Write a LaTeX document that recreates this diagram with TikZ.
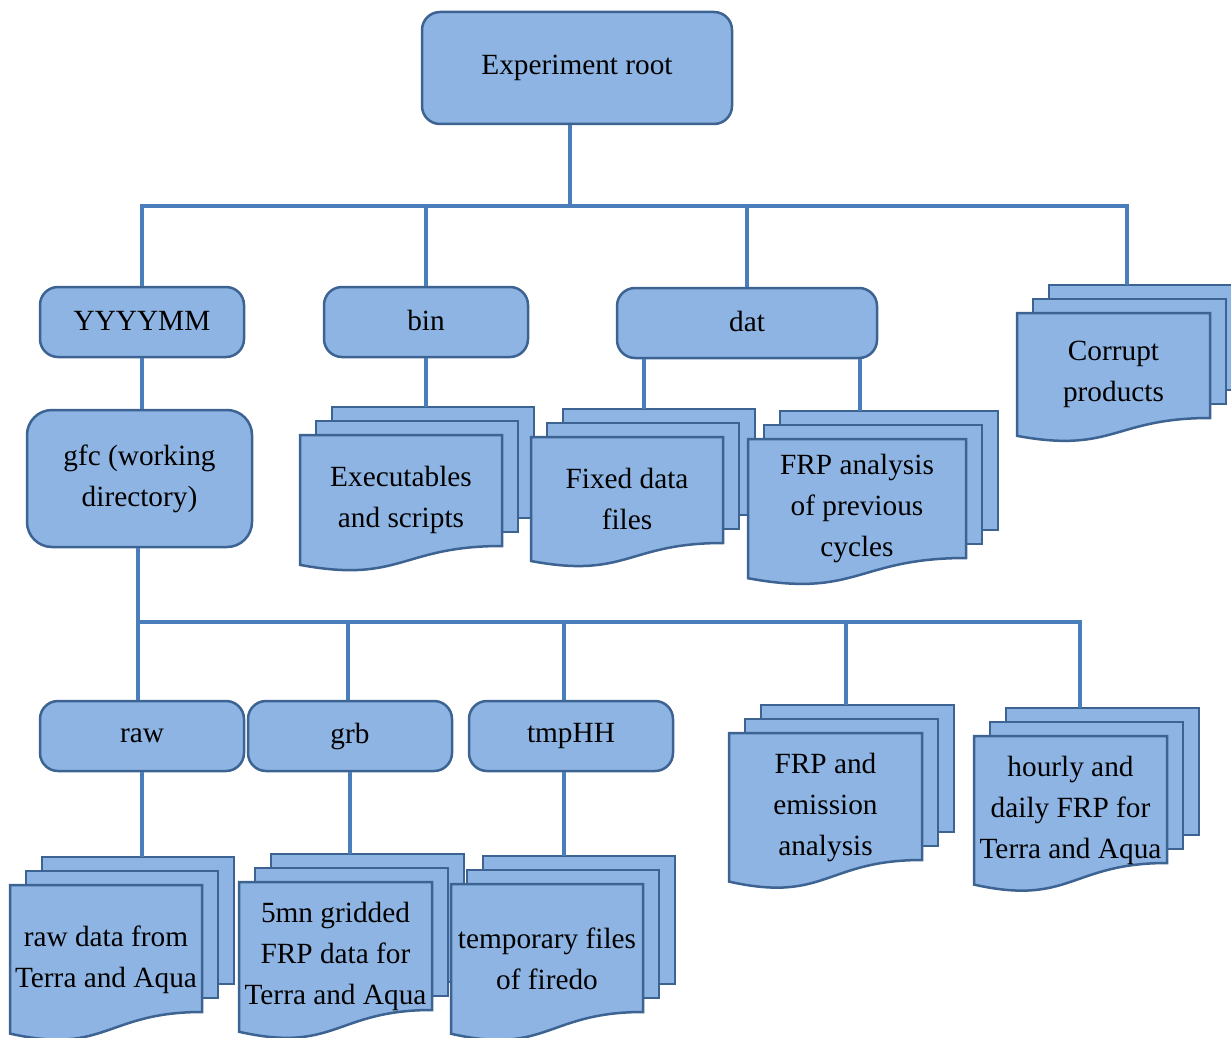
\documentclass[tikz,border=0pt]{standalone}
\usepackage{fontspec}
\setmainfont{Liberation Serif}
\definecolor{boxfill}{HTML}{8EB4E3}
\definecolor{boxline}{HTML}{3D6393}
\definecolor{connline}{HTML}{4A7EBB}
\newcommand{\diagfont}{\fontsize{14.65}{20.5}\selectfont}
\tikzset{
  rbox/.style={draw=boxline, fill=boxfill, line width=1.25pt, rounded corners=9pt,
    align=center, inner sep=0pt, font=\diagfont},
  page/.style={draw=boxline, fill=boxfill, line width=1.25pt, line join=miter},
  doctext/.style={align=center, inner sep=0pt, font=\diagfont},
  conn/.style={draw=connline, line width=1.7pt}
}
% name, L, T, W, Hr, text
\newcommand{\mdoc}[6]{%
  \filldraw[page] ({#2+32},{#3-28}) rectangle ({#2+32+#4},{#3-28+#5});
  \filldraw[page] ({#2+16},{#3-14}) rectangle ({#2+16+#4},{#3-14+#5});
  \filldraw[page] (#2,#3) -- ({#2+#4},#3) -- ({#2+#4},{#3+#5})
     .. controls ({#2+0.5*#4},{#3+#5}) and ({#2+0.5*#4},{#3+1.34*#5}) .. (#2,{#3+1.17*#5}) -- cycle;
  \coordinate (#1-top) at ({#2+32+0.5*#4},{#3-28});
  \node[doctext] (#1) at ({#2+0.5*#4},{#3+0.585*#5}) {#6};
}
\begin{document}
\begin{tikzpicture}[x=0.5pt, y=-0.5pt]
\clip (0,0) rectangle (1231,1038);

% rounded boxes
\node[rbox, minimum width=155pt, minimum height=56pt] (root) at (577,68) {Experiment root};
\node[rbox, minimum width=102pt, minimum height=35pt] (yyyy) at (142,322) {\raisebox{1.2pt}{YYYYMM}};
\node[rbox, minimum width=102pt, minimum height=35pt] (bin) at (426,322) {\raisebox{1.2pt}{bin}};
\node[rbox, minimum width=130pt, minimum height=35pt] (dat) at (747,323) {\raisebox{1.2pt}{dat}};
\node[rbox, rounded corners=12.5pt, minimum width=112.5pt, minimum height=68.5pt] (gfc) at (139.5,478.5) {gfc (working\\directory)};
\node[rbox, minimum width=102pt, minimum height=35pt] (raw) at (142,736) {\raisebox{0.8pt}{raw}};
\node[rbox, minimum width=102pt, minimum height=35pt] (grb) at (350,736) {\raisebox{0.8pt}{grb}};
\node[rbox, minimum width=102pt, minimum height=35pt] (tmp) at (571,736) {\raisebox{0.8pt}{tmpHH}};

% multi-document shapes
\mdoc{corrupt}{1017}{313}{193}{105}{Corrupt\\products}
\mdoc{exe}{300}{435}{202}{111}{Executables\\and scripts}
\mdoc{fixed}{531}{437}{192}{106}{Fixed data\\files}
\mdoc{frpa}{748}{439}{218}{119}{FRP analysis\\of previous\\cycles}
\mdoc{frpe}{729}{733}{193}{127}{FRP and\\emission\\analysis}
\mdoc{hourly}{974}{736}{193}{127}{hourly and\\daily FRP for\\Terra and Aqua}
\mdoc{rawd}{10}{885}{192}{127}{raw data from\\Terra and Aqua}
\mdoc{grid}{239}{882}{193}{128}{5mn gridded\\FRP data for\\Terra and Aqua}
\mdoc{tmpf}{451}{884}{192}{128}{temporary files\\of firedo}

% level 1 connectors
\coordinate (b1) at (570,206);
\coordinate (b1r) at (1127,206);
\draw[conn] (root.south -| b1) -- (b1);
\draw[conn] (yyyy.north) |- (b1r) -- (b1r |- corrupt-top);
\draw[conn] (bin.north) -- (bin.north |- b1);
\draw[conn] (dat.north) -- (dat.north |- b1);

% level 2 connectors
\draw[conn] (yyyy.south) -- (yyyy.south |- gfc.north);
\draw[conn] (bin.south) -- (bin.south |- exe-top);
\coordinate (d1) at (644,358);
\coordinate (d2) at (860,358);
\draw[conn] (d1 |- dat.south) -- (d1 |- fixed-top);
\draw[conn] (d2 |- dat.south) -- (d2 |- frpa-top);

% level 3 connectors
\coordinate (b2) at (138,622);
\coordinate (g1) at (348,622);
\coordinate (g2) at (564,622);
\coordinate (g3) at (846,622);
\coordinate (b2r) at (1080,622);
\draw[conn] (gfc.south -| b2) -- (b2) -- (b2r) -- (b2r |- hourly-top);
\draw[conn] (b2) -- (b2 |- raw.north);
\draw[conn] (g1) -- (g1 |- grb.north);
\draw[conn] (g2) -- (g2 |- tmp.north);
\draw[conn] (g3) -- (g3 |- frpe-top);

% level 4 connectors
\draw[conn] (raw.south) -- (raw.south |- rawd-top);
\draw[conn] (grb.south) -- (grb.south |- grid-top);
\draw[conn] (g2 |- tmp.south) -- (g2 |- tmpf-top);
\end{tikzpicture}
\end{document}
